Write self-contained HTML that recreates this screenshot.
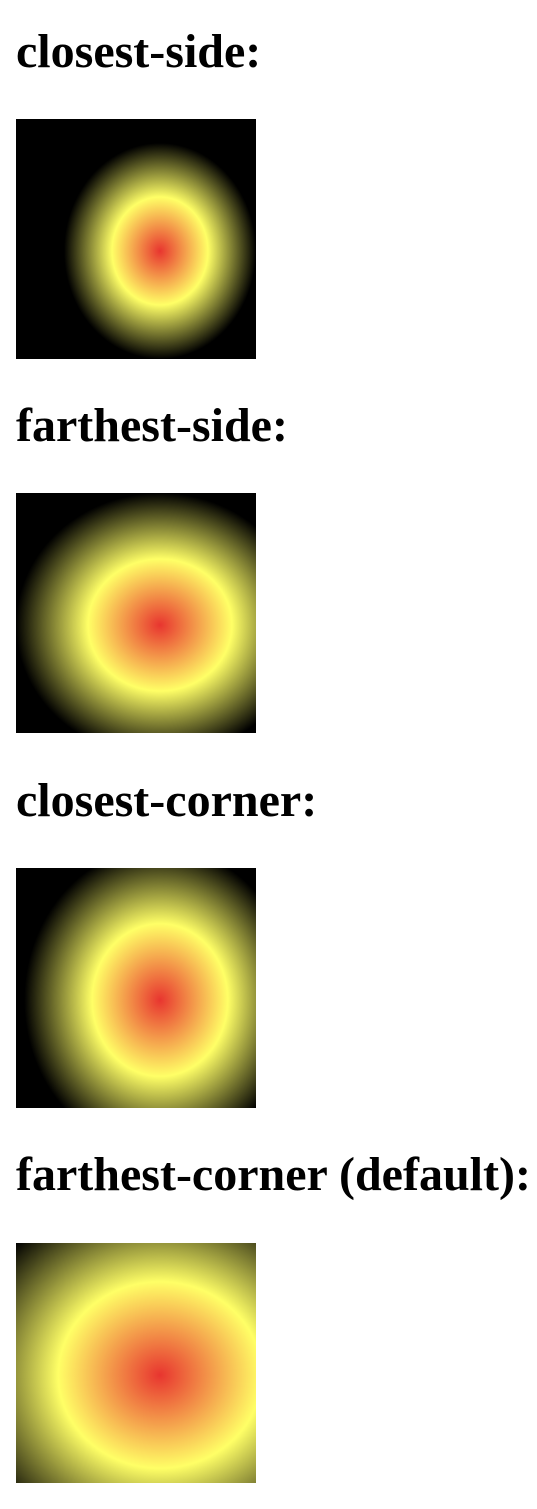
<!DOCTYPE html>
<html><head><meta charset="utf-8">
<style>
html,body{margin:0;padding:0;background:#fff;width:537px;height:1509px;overflow:hidden;position:relative}
h2{position:absolute;left:16px;margin:0;font:bold 48px/48px "Liberation Serif",serif;color:#000;white-space:nowrap}
.g{position:absolute;left:16px;width:240px;height:240px}
</style></head><body>
<h2 style="top:28px">closest-side:</h2>
<div class="g" style="top:119px;background:radial-gradient(closest-side at 60% 55%,#e8352f,#ffff66,#000)"></div>
<h2 style="top:402px">farthest-side:</h2>
<div class="g" style="top:493px;background:radial-gradient(farthest-side at 60% 55%,#e8352f,#ffff66,#000)"></div>
<h2 style="top:777px">closest-corner:</h2>
<div class="g" style="top:868px;background:radial-gradient(closest-corner at 60% 55%,#e8352f,#ffff66,#000)"></div>
<h2 style="top:1151px">farthest-corner (default):</h2>
<div class="g" style="top:1243px;background:radial-gradient(farthest-corner at 60% 55%,#e8352f,#ffff66,#000)"></div>
</body></html>
